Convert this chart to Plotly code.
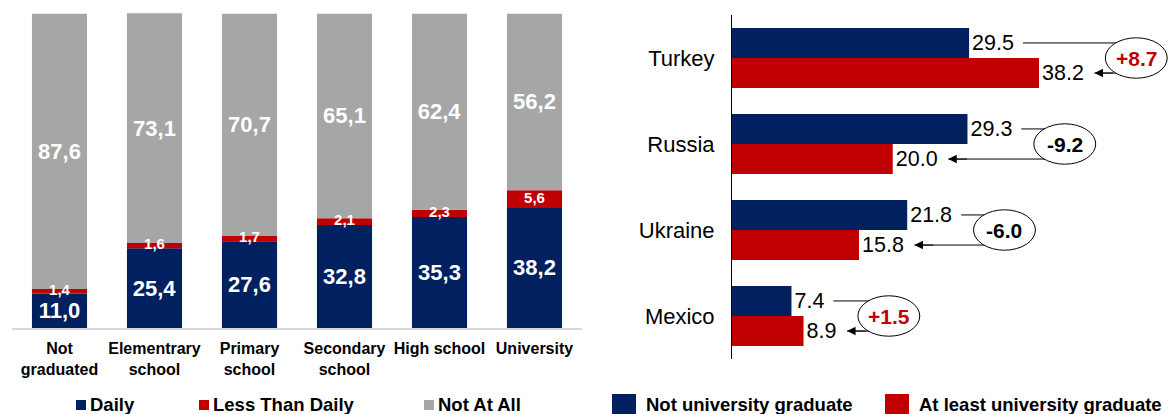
import plotly.graph_objects as go

W, H = 1170, 414

# ---------------- data ----------------
categories = ["Not graduated", "Elementrary school", "Primary school",
              "Secondary school", "High school", "University"]
tick_labels = ["Not<br>graduated", "Elementrary<br>school", "Primary<br>school",
               "Secondary<br>school", "High school", "University"]
daily = [11.0, 25.4, 27.6, 32.8, 35.3, 38.2]
less_daily = [1.4, 1.6, 1.7, 2.1, 2.3, 5.6]
not_at_all = [87.6, 73.1, 70.7, 65.1, 62.4, 56.2]

countries = ["Turkey", "Russia", "Ukraine", "Mexico"]
not_grad = [29.5, 29.3, 21.8, 7.4]
at_least_grad = [38.2, 20.0, 15.8, 8.9]
change = [8.7, -9.2, -6.0, 1.5]

# ---------------- style ----------------
NAVY = "#002060"
RED = "#C00000"
GRAY = "#A6A6A6"
FONT = "Liberation Sans, Arial, sans-serif"


def comma(v):
    return f"{v:.1f}".replace(".", ",")


def pxx(x):
    return x / W


def pxy(y):
    return 1 - y / H


fig = go.Figure()

# ---------------- left: stacked bars ----------------
base_less = list(daily)
base_not = [d + l for d, l in zip(daily, less_daily)]

fig.add_bar(x=categories, y=daily, base=[0] * len(daily), marker_color=NAVY,
            marker_line_width=0, text=[comma(v) for v in daily],
            textposition="inside", insidetextanchor="middle", textangle=0,
            constraintext="none",
            textfont=dict(size=22, color="white", family=FONT, weight="bold"),
            xaxis="x", yaxis="y", hoverinfo="skip")
fig.add_bar(x=categories, y=less_daily, base=base_less, marker_color=RED,
            marker_line_width=0, xaxis="x", yaxis="y", hoverinfo="skip")
fig.add_bar(x=categories, y=not_at_all, base=base_not, marker_color=GRAY,
            marker_line_width=0, text=[comma(v) for v in not_at_all],
            textposition="inside", insidetextanchor="middle", textangle=0,
            constraintext="none", cliponaxis=False,
            textfont=dict(size=22, color="white", family=FONT, weight="bold"),
            xaxis="x", yaxis="y", hoverinfo="skip")
fig.add_scatter(x=categories, y=[d + l / 2 for d, l in zip(daily, less_daily)],
                mode="text", text=[comma(v) for v in less_daily],
                textposition="middle center", cliponaxis=False,
                textfont=dict(size=15, color="white", family=FONT, weight="bold"),
                xaxis="x", yaxis="y", hoverinfo="skip")

# ---------------- right: grouped horizontal bars ----------------
ypos = list(range(len(countries)))
HALF = 0.175
y_blue = [i - HALF for i in ypos]
y_red = [i + HALF for i in ypos]

VAL_SIZE = 21.5
fig.add_bar(x=not_grad, y=y_blue, orientation="h", width=2 * HALF,
            marker_color=NAVY, marker_line_width=0,
            text=[f"{v:.1f}" for v in not_grad], textposition="outside",
            constraintext="none", cliponaxis=False,
            textfont=dict(size=VAL_SIZE, color="black", family=FONT),
            xaxis="x2", yaxis="y2", hoverinfo="skip")
fig.add_bar(x=at_least_grad, y=y_red, orientation="h", width=2 * HALF,
            marker_color=RED, marker_line_width=0,
            text=[f"{v:.1f}" for v in at_least_grad], textposition="outside",
            constraintext="none", cliponaxis=False,
            textfont=dict(size=VAL_SIZE, color="black", family=FONT),
            xaxis="x2", yaxis="y2", hoverinfo="skip")

X2_MAX = 54.5
PXU = (W - 732) / X2_MAX  # pixels per unit on right x axis


def label_units(s, size=VAL_SIZE):
    w = sum(0.556 if c.isdigit() else 0.278 for c in s) * size
    return (w + 4) / PXU


shapes = []
annotations = []
for i in ypos:
    b, r = not_grad[i], at_least_grad[i]
    b_end = b + label_units(f"{b:.1f}")
    r_end = r + label_units(f"{r:.1f}")
    xc = max(b_end, r_end) + 6.4
    tip = r_end + 1.2
    line = dict(color="black", width=1)
    shapes.append(dict(type="line", xref="x2", yref="y2", x0=b_end + 1.0, x1=xc,
                       y0=y_blue[i], y1=y_blue[i], line=line))
    shapes.append(dict(type="line", xref="x2", yref="y2", x0=xc, x1=xc,
                       y0=y_blue[i], y1=y_red[i], line=line))
    shapes.append(dict(type="line", xref="x2", yref="y2", x0=xc, x1=tip,
                       y0=y_red[i], y1=y_red[i], line=line))
    shapes.append(dict(type="circle", xref="x2", yref="y2",
                       x0=xc - 3.85, x1=xc + 3.85, y0=i - 0.235, y1=i + 0.235,
                       fillcolor="white", line=dict(color="black", width=1)))
    annotations.append(dict(x=tip, y=y_red[i], xref="x2", yref="y2",
                            ax=tip + 2.5, ay=y_red[i], axref="x2", ayref="y2",
                            text="", showarrow=True, arrowhead=2, arrowsize=1.7,
                            arrowwidth=1, arrowcolor="black", standoff=0))
    c = change[i]
    annotations.append(dict(x=xc, y=i, xref="x2", yref="y2", showarrow=False,
                            text=f"{c:+.1f}",
                            font=dict(size=21, family=FONT, weight="bold",
                                      color=RED if c > 0 else "black")))

# ---------------- legends (manual) ----------------
left_legend = [("Daily", NAVY, 76), ("Less Than Daily", RED, 199), ("Not At All", GRAY, 424)]
for name, col, x0 in left_legend:
    shapes.append(dict(type="rect", xref="paper", yref="paper",
                       x0=pxx(x0), x1=pxx(x0 + 10), y0=pxy(410), y1=pxy(400),
                       fillcolor=col, line=dict(width=0)))
    annotations.append(dict(x=pxx(x0 + 12), y=pxy(404.5), xref="paper", yref="paper",
                            xanchor="left", yanchor="middle", showarrow=False,
                            text=name, font=dict(size=18.5, family=FONT, weight="bold",
                                                 color="black")))

right_legend = [("Not university graduate", NAVY, 612), ("At least university graduate", RED, 885)]
for name, col, x0 in right_legend:
    shapes.append(dict(type="rect", xref="paper", yref="paper",
                       x0=pxx(x0), x1=pxx(x0 + 24), y0=pxy(414), y1=pxy(394),
                       fillcolor=col, line=dict(width=0)))
    annotations.append(dict(x=pxx(x0 + 32), y=pxy(404), xref="paper", yref="paper",
                            xanchor="left", yanchor="middle", showarrow=False,
                            text=name, font=dict(size=18.5, family=FONT, weight="bold",
                                                 color="black")))

fig.update_layout(
    width=W, height=H,
    margin=dict(l=0, r=0, t=0, b=0),
    paper_bgcolor="white", plot_bgcolor="white",
    barmode="overlay", bargap=0.42,
    showlegend=False,
    font=dict(family=FONT, color="black"),
    shapes=shapes, annotations=annotations,
    xaxis=dict(domain=[pxx(12), pxx(582)], type="category", range=[-0.5, 5.5],
               tickvals=categories, ticktext=tick_labels, ticks="",
               tickfont=dict(size=16, family=FONT, weight="bold", color="black"),
               ticklabelstandoff=5,
               showline=True, linecolor="#D9D9D9", linewidth=2,
               showgrid=False, zeroline=False, anchor="y"),
    yaxis=dict(domain=[pxy(328), pxy(13)], range=[0, 100.2], visible=False,
               anchor="x"),
    xaxis2=dict(domain=[pxx(732), 1.0], range=[0, X2_MAX], visible=False,
                anchor="y2"),
    yaxis2=dict(domain=[pxy(359), pxy(15)], range=[3.5, -0.5], anchor="x2",
                tickvals=ypos, ticktext=countries, ticks="",
                tickfont=dict(size=22, family=FONT, color="black"),
                ticklabelstandoff=12,
                showline=True, linecolor="black", linewidth=1,
                showgrid=False, zeroline=False),
)

fig.write_html("out.html")
